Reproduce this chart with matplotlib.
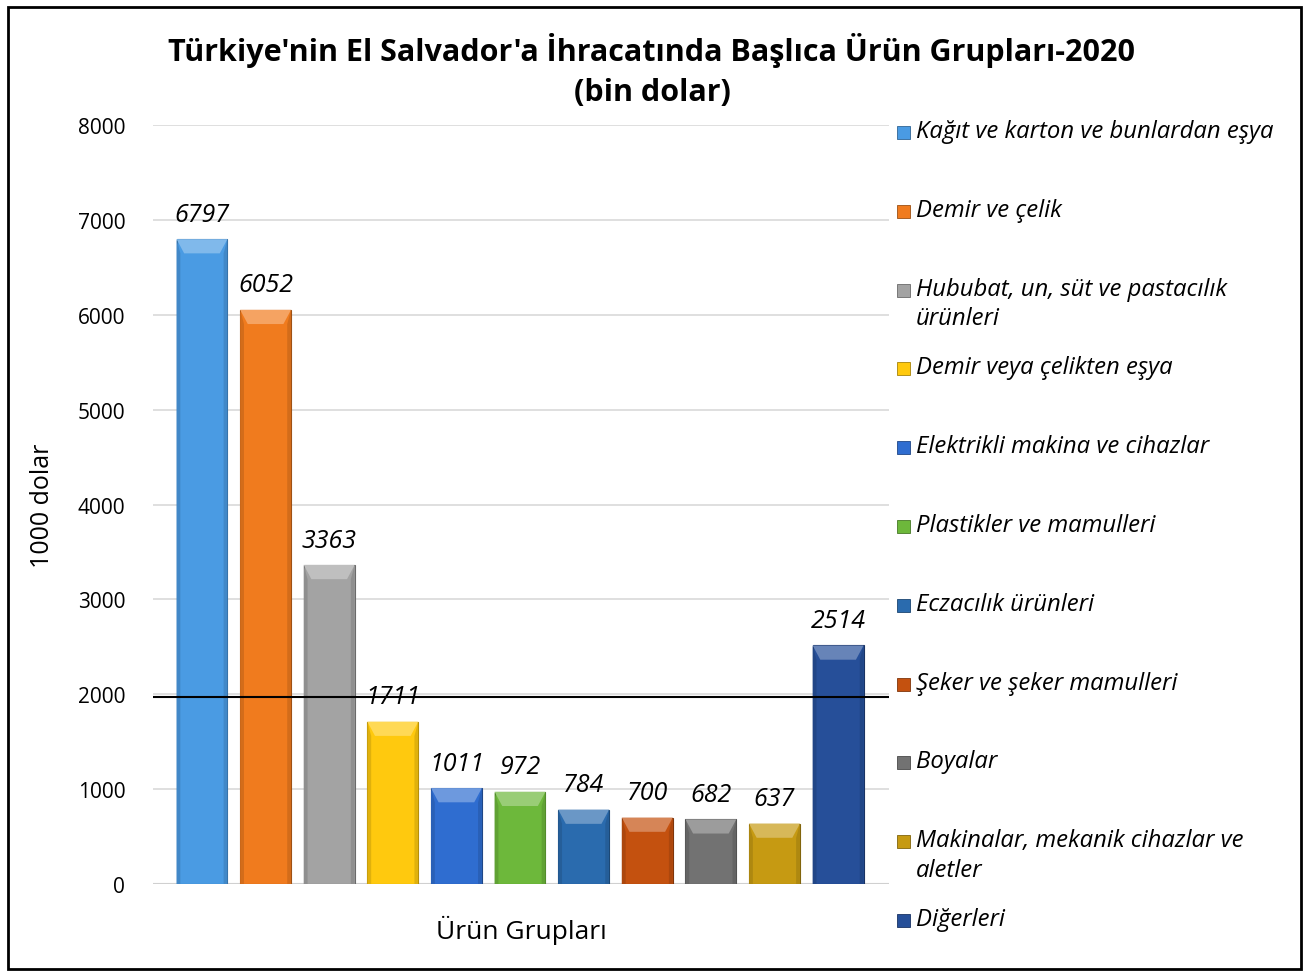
import matplotlib
matplotlib.use("Agg")
import matplotlib.pyplot as plt
from matplotlib.patches import Rectangle, Polygon
import matplotlib.colors as mcolors

plt.rcParams['font.family'] = ['Open Sans', 'DejaVu Sans']

categories = ["Kağıt ve karton ve bunlardan eşya", "Demir ve çelik",
              "Hububat, un, süt ve pastacılık\nürünleri", "Demir veya çelikten eşya",
              "Elektrikli makina ve cihazlar", "Plastikler ve mamulleri",
              "Eczacılık ürünleri", "Şeker ve şeker mamulleri", "Boyalar",
              "Makinalar, mekanik cihazlar ve\naletler", "Diğerleri"]
values = [6797, 6052, 3363, 1711, 1011, 972, 784, 700, 682, 637, 2514]
colors = ["#4A9BE3", "#F07B1E", "#A3A3A3", "#FFC90E", "#2F6DD0", "#6DB83B",
          "#2A6BAE", "#C4510F", "#727272", "#C69A12", "#264F99"]
yticks = [0, 1000, 2000, 3000, 4000, 5000, 6000, 7000, 8000]
ref_line = 1970


def shade(c, f):
    r, g, b = mcolors.to_rgb(c)
    if f > 0:
        return (r + (1 - r) * f, g + (1 - g) * f, b + (1 - b) * f)
    return (r * (1 + f), g * (1 + f), b * (1 + f))


fig = plt.figure(figsize=(13.11, 9.78), dpi=100)
ax = fig.add_axes([153/1311, 1-885/978, (889-153)/1311, (885-126)/978])

x = list(range(len(values)))
bw = 0.8
bev_x = 0.12      # bevel width in data units (x)
bev_y = 150       # bevel height in data units (y)
for xi, v, c in zip(x, values, colors):
    ax.bar(xi, v, width=bw, color=c, edgecolor=shade(c, -0.35), linewidth=0.8, zorder=2)
    ax.add_patch(Polygon([(xi - bw/2, v), (xi + bw/2, v), (xi + bw/2 - bev_x, v - bev_y),
                          (xi - bw/2 + bev_x, v - bev_y)], closed=True,
                         facecolor=shade(c, 0.3), edgecolor='none', zorder=3))
    ax.add_patch(Polygon([(xi - bw/2, v), (xi - bw/2 + bev_x*0.5, v - bev_y),
                          (xi - bw/2 + bev_x*0.5, 0), (xi - bw/2, 0)], closed=True,
                         facecolor=shade(c, -0.12), edgecolor='none', zorder=3))
    ax.add_patch(Polygon([(xi + bw/2, v), (xi + bw/2 - bev_x*0.5, v - bev_y),
                          (xi + bw/2 - bev_x*0.5, 0), (xi + bw/2, 0)], closed=True,
                         facecolor=shade(c, -0.12), edgecolor='none', zorder=3))
    ax.text(xi, v + 130, str(v), ha='center', va='bottom', fontsize=18,
            style='italic', zorder=4)

ax.set_xlim(-0.77, 10.8)
ax.set_ylim(0, 8000)
ax.set_yticks(yticks)
ax.set_yticklabels([str(t) for t in yticks], fontsize=15)
ax.set_xticks([])
ax.grid(axis='y', color='#D9D9D9', linewidth=1.2, zorder=0)
ax.set_axisbelow(True)
for s in ax.spines.values():
    s.set_visible(False)
ax.tick_params(axis='y', length=0, pad=20)
ax.axhline(0, color='#D0D0D0', linewidth=1.5, zorder=1)
ax.axhline(ref_line, color='black', linewidth=1.5, zorder=5)
ax.set_ylabel("1000 dolar", fontsize=18, labelpad=16)
ax.set_xlabel("Ürün Grupları", fontsize=19, labelpad=22)

fig.text(652/1311, 1-50/978, "Türkiye'nin El Salvador'a İhracatında Başlıca Ürün Grupları-2020",
         ha='center', va='center', fontsize=22, fontweight='bold')
fig.text(652/1311, 1-93/978, "(bin dolar)", ha='center', va='center',
         fontsize=22, fontweight='bold')

# legend
leg_y0 = 134
leg_dy = 78.8
for i, (name, c) in enumerate(zip(categories, colors)):
    yp = leg_y0 + i * leg_dy
    fig.patches.append(Rectangle((897/1311, 1-(yp+6)/978), 13/1311, 13/978,
                                 transform=fig.transFigure, facecolor=c,
                                 edgecolor=shade(c, -0.35), linewidth=0.6))
    fig.text(916/1311, 1-(yp-14)/978, name, ha='left', va='top', fontsize=17.2,
             style='italic', linespacing=1.3)

fig.patches.append(Rectangle((8/1311, 8/978), 1293/1311, 962/978,
                             transform=fig.transFigure, fill=False,
                             edgecolor='black', linewidth=2))

fig.savefig("out.png", dpi=100)
